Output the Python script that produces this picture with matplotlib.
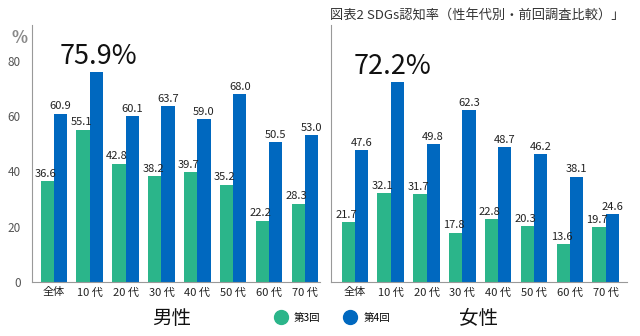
import numpy as np
import matplotlib.pyplot as plt

plt.rcParams['font.family'] = ['Noto Sans CJK JP', 'DejaVu Sans']

ages = ['全体', '10 代', '20 代', '30 代', '40 代', '50 代', '60 代', '70 代']
male_3 = [36.6, 55.1, 42.8, 38.2, 39.7, 35.2, 22.2, 28.3]
male_4 = [60.9, 75.9, 60.1, 63.7, 59.0, 68.0, 50.5, 53.0]
female_3 = [21.7, 32.1, 31.7, 17.8, 22.8, 20.3, 13.6, 19.7]
female_4 = [47.6, 72.2, 49.8, 62.3, 48.7, 46.2, 38.1, 24.6]

green = '#2bb58a'
blue = '#0068bf'
w = 0.37

fig = plt.figure(figsize=(6.4, 3.36), dpi=100)
ax1 = fig.add_axes([0.05, 0.161, 0.45, 0.765])
ax2 = fig.add_axes([0.517, 0.161, 0.463, 0.765])


def draw(ax, v3, v4, xlim, big_idx, big_dx):
    x = np.arange(len(ages))
    ax.bar(x - w / 2, v3, w, color=green)
    ax.bar(x + w / 2, v4, w, color=blue)
    for i in range(len(ages)):
        ax.text(x[i] - w / 2 - 0.05, v3[i] + 0.8, f'{v3[i]:.1f}', ha='center', va='bottom',
                fontsize=8, color='#222222')
        if i != big_idx:
            ax.text(x[i] + w / 2, v4[i] + 0.8, f'{v4[i]:.1f}', ha='center', va='bottom',
                    fontsize=8, color='#222222')
    ax.text(x[big_idx] + big_dx, v4[big_idx] + 0.8, f'{v4[big_idx]:.1f}%', ha='center',
            va='bottom', fontsize=19.5, color='#111111')
    ax.set_xlim(*xlim)
    ax.set_ylim(0, 93)
    ax.set_xticks(x)
    ax.set_xticklabels(ages, fontsize=8, color='#222222')
    ax.tick_params(axis='x', length=0, pad=4)
    for s in ['top', 'right']:
        ax.spines[s].set_visible(False)
    ax.spines['left'].set_color('#999999')
    ax.spines['bottom'].set_color('#999999')


draw(ax1, male_3, male_4, (-0.61, 7.42), 1, 0.25)
draw(ax2, female_3, female_4, (-0.67, 7.6), 1, 0.05)

ax1.set_yticks([0, 20, 40, 60, 80])
ax1.tick_params(axis='y', length=0, labelsize=8.5, labelcolor='#555555', pad=8)
ax2.set_yticks([])

ax1.text(-0.042, 0.95, '%', transform=ax1.transAxes, fontsize=12, fontweight='bold',
         color='#888888', ha='center', va='center')

fig.text(172 / 640, 1 - 318 / 336, '男性', fontsize=14, ha='center', va='center', color='#111111')
fig.text(478 / 640, 1 - 318 / 336, '女性', fontsize=14, ha='center', va='center', color='#111111')

fig.text(624 / 640, 1 - 15 / 336, '図表2 SDGs認知率（性年代別・前回調査比較）」', fontsize=9.5,
         ha='right', va='center', color='#333333')

fig.legend(handles=[plt.Line2D([], [], marker='o', ls='', color=green, markersize=10, label='第3回'),
                    plt.Line2D([], [], marker='o', ls='', color=blue, markersize=10, label='第4回')],
           loc='center', bbox_to_anchor=(330 / 640, 1 - 318 / 336), ncol=2, frameon=False,
           fontsize=7.5, handletextpad=0.3, columnspacing=1.8)

fig.savefig('out.png', dpi=100)
